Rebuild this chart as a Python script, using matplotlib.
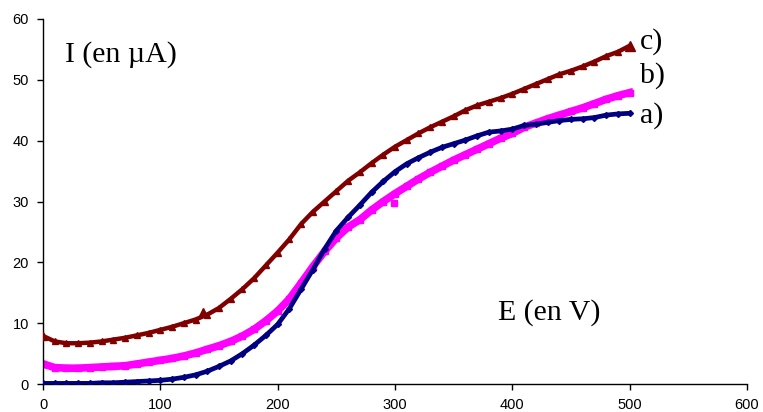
import matplotlib
matplotlib.use("Agg")
import matplotlib.pyplot as plt

# Potential (V)
E = list(range(0, 501, 10))

# a) dark blue diamonds
I_a = [0.1, 0.1, 0.1, 0.1, 0.1, 0.2, 0.2, 0.3, 0.4, 0.5,
       0.6, 0.8, 1.1, 1.5, 2.1, 2.9, 3.8, 5.0, 6.4, 8.0,
       9.8, 12.4, 15.6, 18.8, 22.2, 25.2, 27.4, 29.4, 31.5, 33.3,
       34.9, 36.2, 37.2, 38.1, 38.9, 39.5, 40.1, 40.8, 41.4, 41.6,
       41.9, 42.5, 42.7, 43.0, 43.3, 43.5, 43.6, 43.8, 44.2, 44.4,
       44.5]

# b) magenta squares
I_b = [3.3, 2.7, 2.6, 2.6, 2.7, 2.8, 2.9, 3.0, 3.3, 3.6,
       3.9, 4.2, 4.6, 5.1, 5.7, 6.3, 7.0, 7.9, 9.0, 10.4,
       12.0, 14.0, 16.6, 19.3, 21.8, 24.0, 25.8, 27.0, 28.6, 30.0,
       31.3, 32.5, 33.7, 34.8, 35.8, 36.8, 37.7, 38.6, 39.5, 40.4,
       41.2, 42.2, 42.9, 43.6, 44.2, 44.8, 45.4, 46.1, 46.8, 47.4,
       47.9]

# c) dark red triangles
I_c = [7.9, 7.0, 6.7, 6.7, 6.8, 7.0, 7.3, 7.6, 8.0, 8.4,
       8.9, 9.4, 10.0, 10.6, 11.4, 12.5, 14.0, 15.6, 17.4, 19.5,
       21.6, 23.8, 26.3, 28.3, 30.0, 31.7, 33.4, 34.8, 36.3, 37.7,
       39.0, 40.1, 41.2, 42.2, 43.1, 44.0, 45.0, 45.8, 46.4, 47.0,
       47.7, 48.5, 49.3, 50.1, 50.9, 51.5, 52.2, 53.0, 53.9, 54.6,
       55.6]

# isolated outlier points
out_c_E, out_c_I = [136], [11.9]
out_b_E, out_b_I = [299], [29.7]

x_ticks = [0, 100, 200, 300, 400, 500, 600]
y_ticks = [0, 10, 20, 30, 40, 50, 60]

navy = "#000080"
mag = "#FF00FF"
dred = "#800000"

fig = plt.figure(figsize=(7.63, 4.12), dpi=100)
ax = fig.add_axes([43/763, 1-384/412, (747-43)/763, (384-19)/412])

ax.plot(E, I_c, color=dred, lw=3.2, marker="^", ms=4.0, mec=dred, mfc=dred, zorder=3)
ax.plot(E, I_b, color=mag, lw=5.5, marker="s", ms=4.0, mec=mag, mfc=mag, zorder=2)
ax.plot(E, I_a, color=navy, lw=3.4, marker="D", ms=3.0, mec=navy, mfc=navy, zorder=4)
ax.plot(out_c_E, out_c_I, ls="none", marker="^", ms=6, color=dred)
ax.plot(out_b_E, out_b_I, ls="none", marker="s", ms=5, color=mag)
ax.plot([E[-1]], [I_c[-1]], ls="none", marker="^", ms=7, color=dred, zorder=5)
ax.plot([E[0]], [I_c[0]], ls="none", marker="^", ms=6, color=dred, zorder=5)

ax.set_xlim(0, 600)
ax.set_ylim(0, 60)
ax.set_xticks(x_ticks)
ax.set_yticks(y_ticks)
ax.spines["top"].set_visible(False)
ax.spines["right"].set_visible(False)
for s in ("left", "bottom"):
    ax.spines[s].set_linewidth(1.0)
    ax.spines[s].set_color("black")
ax.tick_params(direction="out", length=4, width=1, labelsize=10.5, pad=6)
for lab in ax.get_xticklabels() + ax.get_yticklabels():
    lab.set_fontfamily("Liberation Sans")

serif = ["Liberation Serif", "DejaVu Serif"]
fs = 21.5
fig.text(65/763, 1-55/412, "I (en µA)", fontsize=fs, family=serif, ha="left", va="center")
fig.text(498/763, 1-313/412, "E (en V)", fontsize=fs, family=serif, ha="left", va="center")
fig.text(640/763, 1-42/412, "c)", fontsize=fs, family=serif, ha="left", va="center")
fig.text(640/763, 1-76/412, "b)", fontsize=fs, family=serif, ha="left", va="center")
fig.text(640/763, 1-116/412, "a)", fontsize=fs, family=serif, ha="left", va="center")

fig.savefig("out.png", dpi=100)
